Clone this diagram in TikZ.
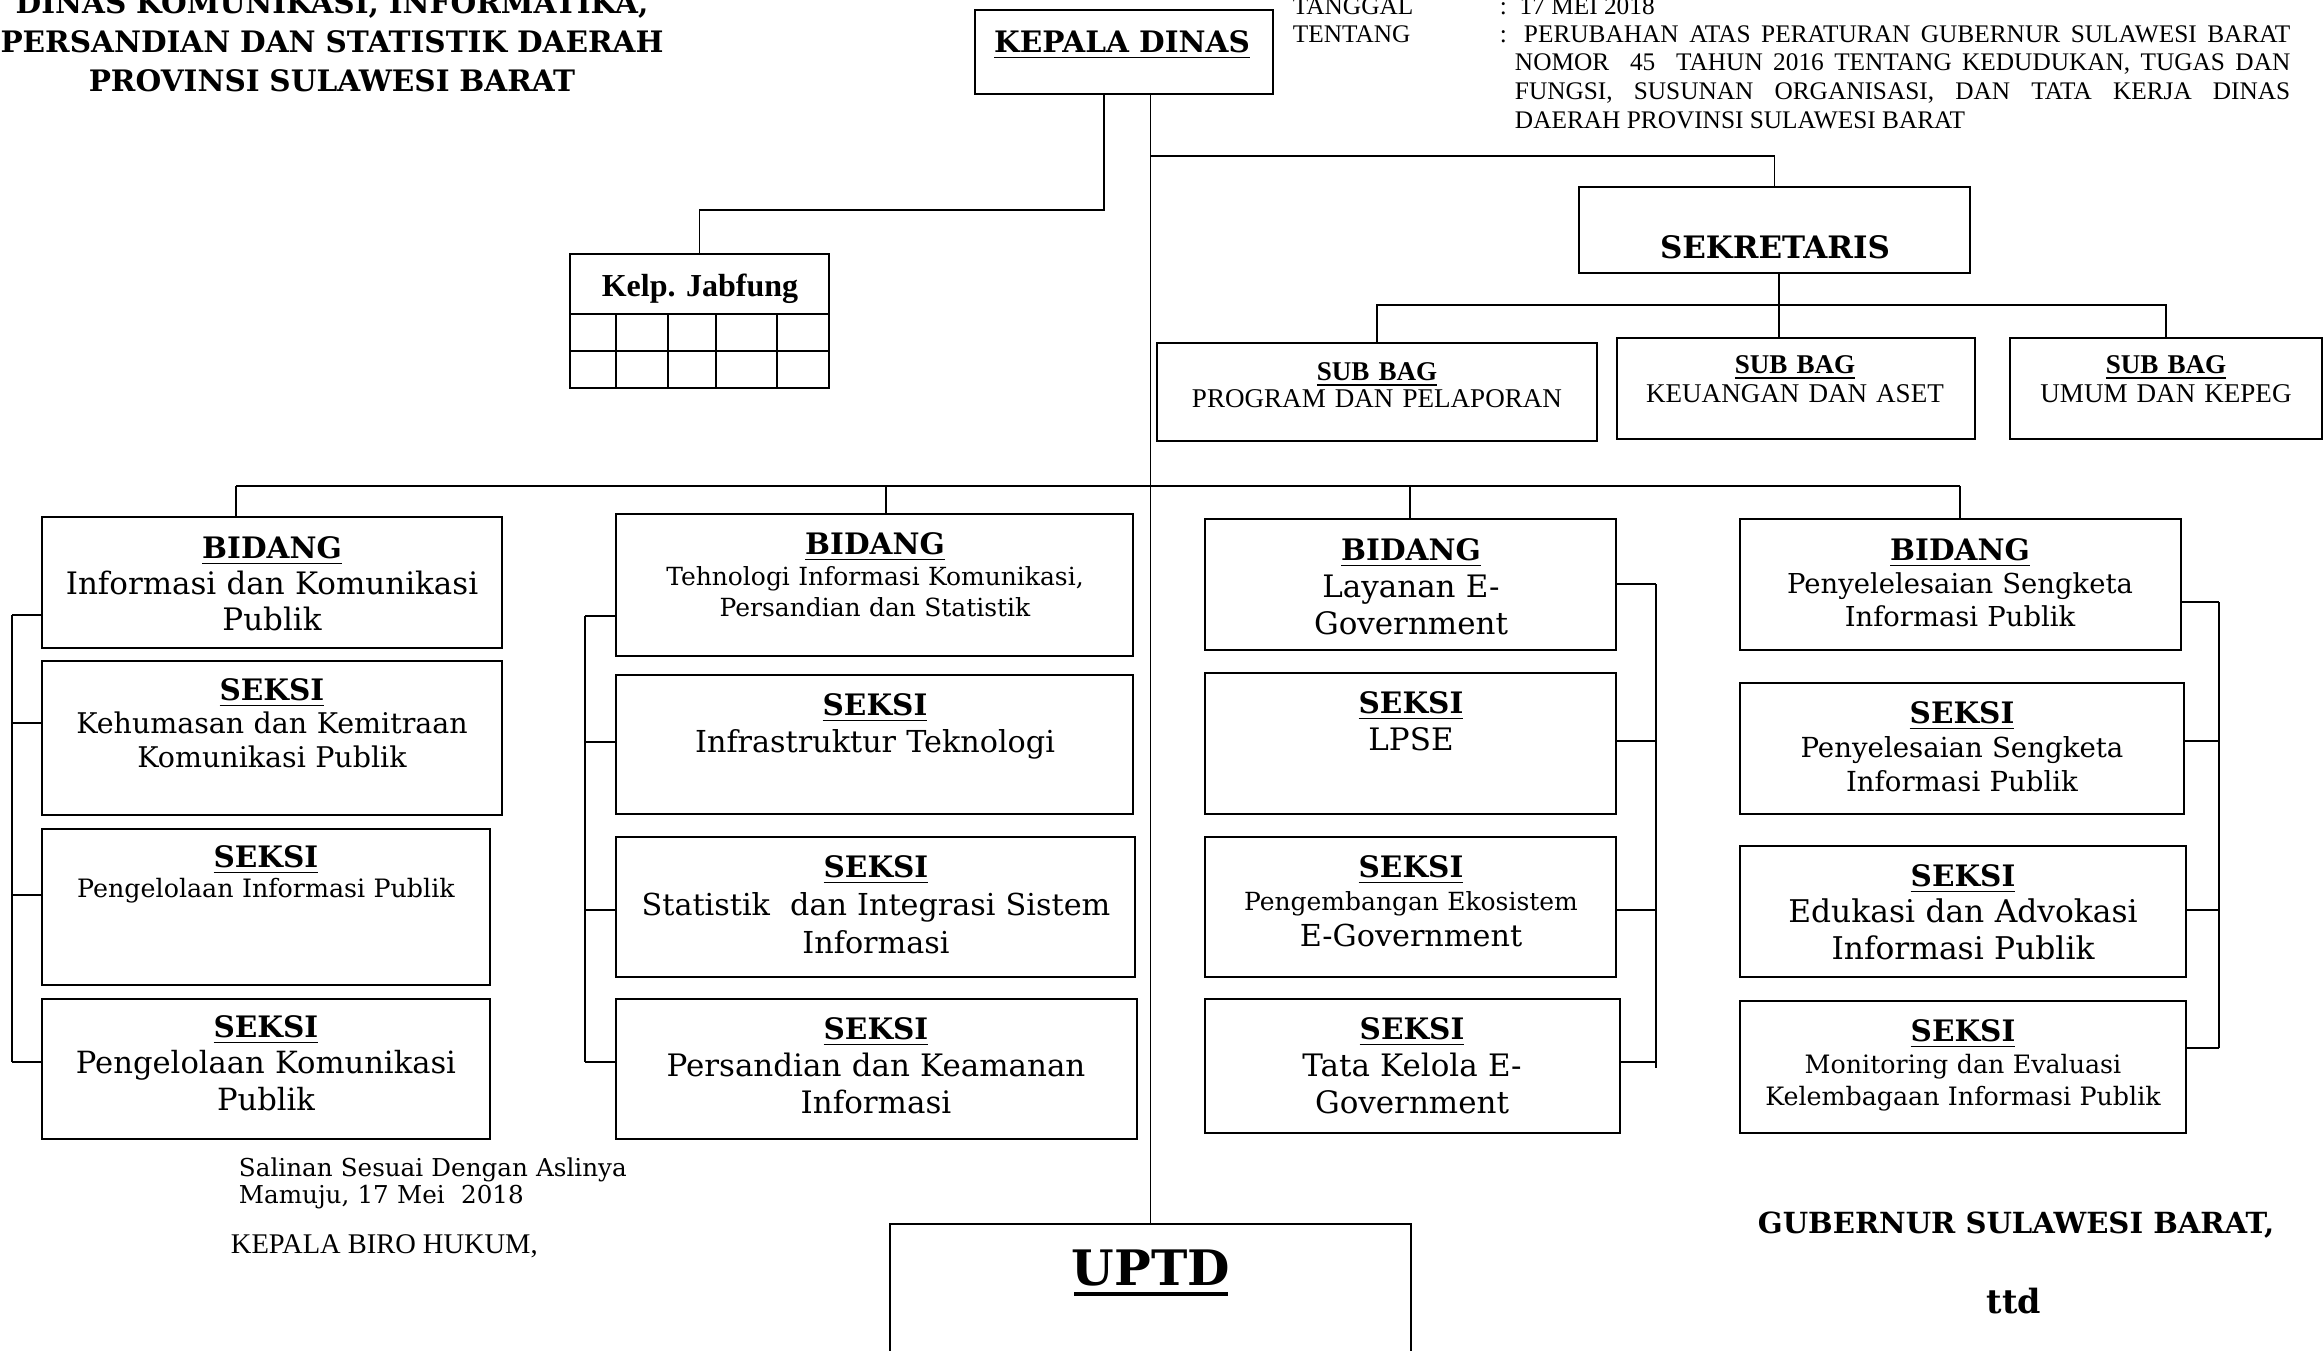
\documentclass[tikz,border=0pt]{standalone}
\usepackage{fontspec}
\setmainfont{DejaVu Serif}
\newfontfamily\tnr{Liberation Serif}
\usetikzlibrary{positioning,fit}

% judul dalam kotak: tebal, bergaris bawah
\newcommand{\tajuk}[1]{{\fontsize{8.4}{10}\selectfont\bfseries\underline{#1}}}

\begin{document}
\begin{tikzpicture}[x=0.01cm, y=-0.01cm, line width=0.55pt,
        box/.style = {draw, inner sep=0pt},
        txt/.style = {anchor=base, inner sep=0pt, align=center},
        kop/.style = {font=\fontsize{8.4}{11.1}\selectfont\bfseries}]
    \useasboundingbox (0,0) rectangle (2323,1351);

    % kop kiri dan kanan
    \node[txt, kop, text width=7cm] (judul) at (332,13) {DINAS KOMUNIKASI, INFORMATIKA,\\PERSANDIAN DAN STATISTIK DAERAH\\PROVINSI SULAWESI BARAT};
    \node[anchor=base west, inner sep=0pt, font=\tnr\fontsize{7.2}{8}\selectfont] (tgl) at (1292,14) {TANGGAL};
    \node[anchor=base west, inner sep=0pt, font=\tnr\fontsize{7.2}{8}\selectfont] (tglisi) at (1499,14) {:\ \ 17 MEI 2018};
    \node[anchor=base west, inner sep=0pt, font=\tnr\fontsize{7.2}{8}\selectfont] (ttg) at (1292,42) {TENTANG};
    \node[anchor=base west, inner sep=0pt, font=\tnr\fontsize{7.2}{8}\selectfont] (ttgtitik) at (1499,42) {:};
    \node[anchor=base west, inner sep=0pt, font=\tnr\fontsize{7.2}{8.2}\selectfont] (ttgisi) at (1514,42) {\parbox[t]{7.75cm}{\hspace*{0.09cm}PERUBAHAN ATAS PERATURAN GUBERNUR SULAWESI BARAT\linebreak NOMOR~ 45~ TAHUN 2016 TENTANG KEDUDUKAN, TUGAS DAN\linebreak FUNGSI, SUSUNAN ORGANISASI, DAN TATA KERJA DINAS\linebreak DAERAH PROVINSI SULAWESI BARAT}};

    % pimpinan dan sekretariat
    \node[box, fit={(975,10) (1273,94)}] (kadis) {};
    \node[txt, kop] (tkadis) at (1122,52) {\underline{KEPALA DINAS}};
    \node[box, fit={(570,254) (829,388)}] (jab) {};
    \node[txt, font=\tnr\fontsize{9.1}{11}\selectfont\bfseries] (tjab) at (700,296) {Kelp. Jabfung};
    \foreach \y in {314,351}
        \draw (570,\y) -- (829,\y);
    \foreach \x in {616,668,716,777}
        \draw (\x,314) -- (\x,388);
    \node[box, fit={(1579,187) (1970,273)}] (sekre) {};
    \node[txt, font=\fontsize{8.8}{10}\selectfont\bfseries] (tsekre) at (1775,258) {SEKRETARIS};

    \node[box, fit={(1157,343) (1597,441)}] (sb1) {};
    \node[box, fit={(1617,338) (1975,439)}] (sb2) {};
    \node[box, fit={(2010,338) (2322,439)}] (sb3) {};
    \node[txt, text width=4.2cm, font=\tnr\fontsize{7.7}{7.7}\selectfont] (tsb1) at (1377,380) {\textbf{\underline{SUB BAG}}\\PROGRAM DAN PELAPORAN};
    \node[txt, text width=3.4cm, font=\tnr\fontsize{7.7}{8.5}\selectfont] (tsb2) at (1795,373) {\textbf{\underline{SUB BAG}}\\KEUANGAN DAN ASET};
    \node[txt, text width=3cm, font=\tnr\fontsize{7.7}{8.5}\selectfont] (tsb3) at (2166,373) {\textbf{\underline{SUB BAG}}\\UMUM DAN KEPEG};

    % bidang dan seksi
    \node[box, fit={(42,517) (502,648)}] (bid1) {};
    \node[box, fit={(42,661) (502,815)}] (sek11) {};
    \node[box, fit={(42,829) (490,985)}] (sek12) {};
    \node[box, fit={(42,999) (490,1139)}] (sek13) {};
    \node[txt, text width=4.5cm, font=\fontsize{8.8}{10.3}\selectfont] (tbid1) at (272,558) {\tajuk{BIDANG}\\Informasi dan Komunikasi\\Publik};
    \node[txt, text width=4.5cm, font=\fontsize{8.1}{9.6}\selectfont] (tsek11) at (272,700) {\tajuk{SEKSI}\\Kehumasan dan Kemitraan\\Komunikasi Publik};
    \node[txt, text width=4.4cm, font=\fontsize{7.2}{8.8}\selectfont] (tsek12) at (266,867) {\tajuk{SEKSI}\\Pengelolaan Informasi Publik};
    \node[txt, text width=4.4cm, font=\fontsize{8.7}{10.4}\selectfont] (tsek13) at (266,1037) {\tajuk{SEKSI}\\Pengelolaan Komunikasi\\Publik};

    \node[box, fit={(616,514) (1133,656)}] (bid2) {};
    \node[box, fit={(616,675) (1133,814)}] (sek21) {};
    \node[box, fit={(616,837) (1135,977)}] (sek22) {};
    \node[box, fit={(616,999) (1137,1139)}] (sek23) {};
    \node[txt, text width=5cm, font=\fontsize{7.1}{8.9}\selectfont] (tbid2) at (875,554) {\tajuk{BIDANG}\\Tehnologi Informasi Komunikasi,\\Persandian dan Statistik};
    \node[txt, text width=5cm, font=\fontsize{8.6}{10.8}\selectfont] (tsek21) at (875,715) {\tajuk{SEKSI}\\Infrastruktur Teknologi};
    \node[txt, text width=5cm, font=\fontsize{8.6}{10.9}\selectfont] (tsek22) at (876,877) {\tajuk{SEKSI}\\Statistik~ dan Integrasi Sistem\\Informasi};
    \node[txt, text width=5cm, font=\fontsize{8.8}{10.6}\selectfont] (tsek23) at (876,1039) {\tajuk{SEKSI}\\Persandian dan Keamanan\\Informasi};

    \node[box, fit={(1205,519) (1616,650)}] (bid3) {};
    \node[box, fit={(1205,673) (1616,814)}] (sek31) {};
    \node[box, fit={(1205,837) (1616,977)}] (sek32) {};
    \node[box, fit={(1205,999) (1620,1133)}] (sek33) {};
    \node[txt, text width=4cm, font=\fontsize{8.8}{10.6}\selectfont] (tbid3) at (1411,560) {\tajuk{BIDANG}\\Layanan E-\\Government};
    \node[txt, text width=4cm, font=\fontsize{8.8}{10.6}\selectfont] (tsek31) at (1411,713) {\tajuk{SEKSI}\\LPSE};
    \node[txt, text width=4cm, font=\fontsize{7.1}{9.4}\selectfont] (tsek32) at (1411,877) {\tajuk{SEKSI}\\Pengembangan Ekosistem\\[0.9pt]{\fontsize{8.6}{10}\selectfont E-Government}};
    \node[txt, text width=4cm, font=\fontsize{8.8}{10.6}\selectfont] (tsek33) at (1412,1039) {\tajuk{SEKSI}\\Tata Kelola E-\\Government};

    \node[box, fit={(1740,519) (2181,650)}] (bid4) {};
    \node[box, fit={(1740,683) (2184,814)}] (sek41) {};
    \node[box, fit={(1740,846) (2186,977)}] (sek42) {};
    \node[box, fit={(1740,1001) (2186,1133)}] (sek43) {};
    \node[txt, text width=4.3cm, font=\fontsize{7.8}{9.5}\selectfont] (tbid4) at (1960,560) {\tajuk{BIDANG}\\Penyelelesaian Sengketa\\Informasi Publik};
    \node[txt, text width=4.3cm, font=\fontsize{7.85}{9.7}\selectfont] (tsek41) at (1962,723) {\tajuk{SEKSI}\\Penyelesaian Sengketa\\Informasi Publik};
    \node[txt, text width=4.3cm, font=\fontsize{8.9}{10.5}\selectfont] (tsek42) at (1963,886) {\tajuk{SEKSI}\\Edukasi dan Advokasi\\Informasi Publik};
    \node[txt, text width=4.4cm, font=\fontsize{7.2}{9.1}\selectfont] (tsek43) at (1963,1041) {\tajuk{SEKSI}\\Monitoring dan Evaluasi\\Kelembagaan Informasi Publik};

    % UPTD
    \node[box, fit={(890,1224) (1411,1420)}] (uptd) {};
    \node[txt, font=\fontsize{13.9}{16}\selectfont\bfseries] (tuptd) at (1151,1285) {UPTD};
    \draw[line width=1pt] (1074,1294) -- (1228,1294);

    % garis penghubung atas
    \coordinate (kj) at (1104,210);
    \draw (kadis.south -| kj) -- (kj) -| (jab.north);
    \draw (kadis.south -| uptd.north) -- (uptd.north);
    \coordinate (ks) at (1151,156);
    \draw (ks) -| (sekre.north);
    \coordinate (kb) at (1779,305);
    \draw (sekre.south -| kb) -- (sb2.north -| kb);
    \draw (sb1.north) |- (kb) -| (sb3.north);

    % garis ke bidang
    \coordinate (d1) at (236,486);
    \coordinate (d2) at (886,486);
    \coordinate (d3) at (1410,486);
    \coordinate (d4) at (1960,486);
    \draw (d1) -- (d4);
    \foreach \b/\d in {bid1/d1, bid2/d2, bid3/d3, bid4/d4}
        \draw (\d) -- (\b.north -| \d);

    % garis samping tiap bidang
    \coordinate (ka1) at (12,615);
    \coordinate (kb1) at (12,723);
    \coordinate (kc1) at (12,895);
    \coordinate (kd1) at (12,1062);
    \draw (ka1) -- (kd1);
    \foreach \n/\c in {bid1/ka1, sek11/kb1, sek12/kc1, sek13/kd1}
        \draw (\c) -- (\n.west |- \c);

    \coordinate (ka2) at (585,616);
    \coordinate (kb2) at (585,742);
    \coordinate (kc2) at (585,910);
    \coordinate (kd2) at (585,1062);
    \draw (ka2) -- (kd2);
    \foreach \n/\c in {bid2/ka2, sek21/kb2, sek22/kc2, sek23/kd2}
        \draw (\c) -- (\n.west |- \c);

    \coordinate (ka3) at (1656,584);
    \coordinate (kb3) at (1656,741);
    \coordinate (kc3) at (1656,910);
    \coordinate (kd3) at (1656,1062);
    \draw (ka3) -- ([yshift=-0.06cm]kd3);
    \foreach \n/\c in {bid3/ka3, sek31/kb3, sek32/kc3, sek33/kd3}
        \draw (\c) -- (\n.east |- \c);

    \coordinate (ka4) at (2219,602);
    \coordinate (kb4) at (2219,741);
    \coordinate (kc4) at (2219,910);
    \coordinate (kd4) at (2219,1048);
    \draw (ka4) -- (kd4);
    \foreach \n/\c in {bid4/ka4, sek41/kb4, sek42/kc4, sek43/kd4}
        \draw (\c) -- (\n.east |- \c);

    % pengesahan
    \node[anchor=base west, inner sep=0pt, text width=4.5cm, align=left, font=\fontsize{7}{7.95}\selectfont] (salinan) at (238,1176) {Salinan Sesuai Dengan Aslinya\\Mamuju, 17 Mei~ 2018};
    \node[anchor=base west, inner sep=0pt, font=\tnr\fontsize{8.1}{9}\selectfont] (biro) at (230,1253) {KEPALA BIRO HUKUM,};
    \node[anchor=base west, inner sep=0pt, font=\fontsize{8.28}{10}\selectfont\bfseries] (gub) at (1757,1233) {GUBERNUR SULAWESI BARAT,};
    \node[txt, font=\fontsize{9.5}{11}\selectfont\bfseries] (ttd) at (2014,1313) {ttd};
\end{tikzpicture}
\end{document}
